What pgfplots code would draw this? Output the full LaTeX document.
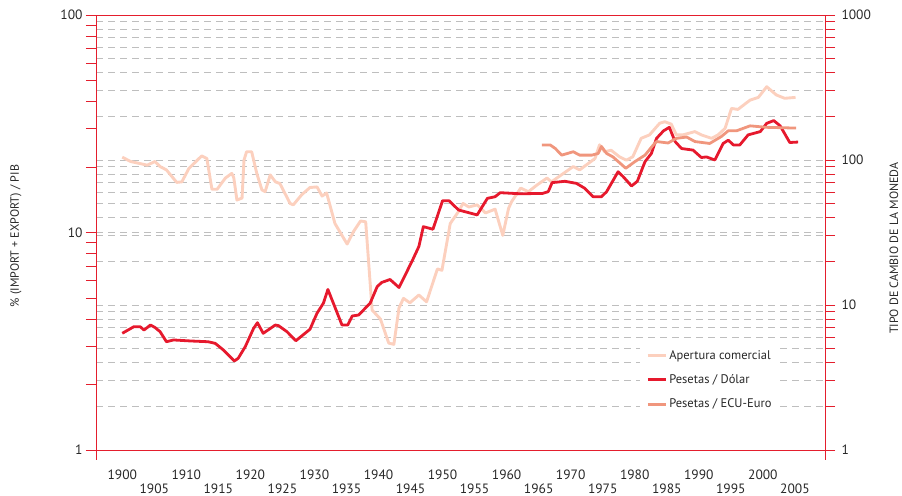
\documentclass[border=0pt]{standalone}
\usepackage{fontspec}
\setmainfont{PT Sans}
\usepackage{pgfplots}
\pgfplotsset{compat=1.18}
\definecolor{axred}{RGB}{228,30,45}
\definecolor{apcol}{RGB}{252,208,190}
\definecolor{dolcol}{RGB}{230,25,45}
\definecolor{ecucol}{RGB}{240,150,125}
\definecolor{gridgray}{RGB}{190,190,190}
\definecolor{txt}{RGB}{40,40,40}
\pgfplotsset{
  mybase/.style={
    scale only axis, width=729bp, height=435bp,
    xmin=1895.9, xmax=2009.7,
    tick align=outside,
    major tick length=10bp, minor tick length=10bp,
    tick style={axred, line width=0.8bp},
    axis line style={axred, line width=0.9bp},
    tick label style={font=\fontsize{13.5bp}{15bp}\selectfont, text=txt},
    label style={font=\fontsize{12bp}{14bp}\selectfont, text=txt},
  },
  /pgf/number format/1000 sep={},
  /pgf/number format/assume math mode=true,
}
\begin{document}
\begin{tikzpicture}
\path[use as bounding box] (-96bp,-46bp) rectangle (806bp,450bp);
% grid + corner crosses
\begin{axis}[mybase, ymode=log, ymin=1, ymax=1000,
  axis line style={draw=none},
  ytick={1,10,100,1000}, yticklabels={}, ytick style={draw=none},
  ymajorgrids, yminorgrids,
  grid style={gridgray, dash pattern=on 7bp off 5bp, line width=0.9bp},
  xtick={1895.9,2009.7}, xticklabels={}, xtick pos=left,
  xtick style={axred, line width=0.8bp},
  tick align=center,
  major tick length=20bp,
]
\addplot[draw=none] coordinates {(1900,10)};
\end{axis}
% left axis
\begin{axis}[mybase, ymode=log, ymin=1, ymax=100,
  log ticks with fixed point,
  ytick={1,10,100}, ytick pos=left,
  ymajorgrids, grid style={gridgray, dash pattern=on 7bp off 5bp, line width=0.9bp},
  xtick={1900,1910,...,2000}, xtick style={draw=none}, xtick pos=left,
  extra x ticks={1905,1915,...,2005},
  extra x tick style={xticklabel style={yshift=-14bp}},
  xticklabel style={yshift=-6bp},
  ylabel={\% (IMPORT + EXPORT) / PIB},
  ylabel style={at={(rel axis cs:-0.1097,0.492)}, anchor=center},
]
\addplot[apcol, line width=2.9bp, line join=round] coordinates {
(1900,22.2) (1901.3,21.2) (1903.9,20.4) (1905.1,21.2) (1905.9,20.1) (1906.9,19.4)
(1908.5,17.0) (1909.3,17.1) (1910.4,19.7) (1912.4,22.5) (1913.2,21.9) (1914,15.8)
(1914.8,15.8) (1916.1,17.8) (1917.1,18.7) (1917.4,17.9) (1917.9,14.1) (1918.7,14.4)
(1919,21.5) (1919.4,23.5) (1920.2,23.5) (1921,18.7) (1921.8,15.7) (1922.3,15.4)
(1923.1,18.4) (1923.9,17.1) (1924.6,16.8) (1926.2,13.6) (1926.7,13.4) (1928,14.9)
(1929.3,16.1) (1930.4,16.2) (1931.2,14.7) (1931.9,15.2) (1933.2,11.0) (1935.1,8.85)
(1936.1,10.1) (1937.2,11.3) (1938,11.2) (1939,4.4) (1940.3,4.0) (1941.6,3.1)
(1942.4,3.06) (1943.2,4.5) (1943.9,4.98) (1944.9,4.75) (1946.3,5.16) (1947.5,4.8)
(1949.2,6.8) (1949.9,6.7) (1951.2,11.0) (1952.5,12.5) (1953.2,13.6) (1954.1,13.1)
(1955.4,13.4) (1956.7,12.3) (1958.2,12.8) (1959.4,9.7) (1960.3,12.9) (1960.8,13.9)
(1962.2,16.0) (1963.4,15.4) (1964.7,16.5) (1966.3,17.8) (1967,17.1) (1970.4,20.1)
(1971.4,19.4) (1973.8,21.9) (1974.5,25.3) (1975.3,23.5) (1976.3,23.9) (1977.6,22.3)
(1978.7,21.5) (1979.7,22.3) (1981,27.1) (1982.3,28.1) (1983.9,31.8) (1984.7,32.3)
(1985.7,31.5) (1986.5,28.1) (1987.5,28.1) (1989.4,29.1) (1990.4,28.1) (1992,27.1)
(1993,28.1) (1994.1,30.1) (1995.1,37.2) (1996.1,36.8) (1998,40.6) (1999.3,41.8)
(2000.6,46.8) (2002.1,42.9) (2003.4,41.4) (2005.1,41.8)
};
\end{axis}
% right axis
\begin{axis}[mybase, ymode=log, ymin=1, ymax=1000,
  log ticks with fixed point,
  axis y line*=right, axis x line=none,
  ytick={1,10,100,1000},
  yticklabel style={xshift=3bp},
  ylabel={TIPO DE CAMBIO DE LA MONEDA},
  ylabel style={at={(rel axis cs:1.0947,0.464)}, anchor=center},
  legend style={at={(rel axis cs:0.7465,0.246)}, anchor=north west, draw=none,
    fill=white, font=\fontsize{12.5bp}{14bp}\selectfont, text=txt,
    row sep=10bp, inner xsep=6bp, inner ysep=5bp},
  legend cell align=left,
  legend image code/.code={\draw[#1] (0bp,0bp) -- (18bp,0bp);},
]
\addlegendimage{apcol, line width=2.9bp}
\addlegendentry{Apertura comercial}
\addplot[dolcol, line width=2.8bp, line join=round] coordinates {
(1900,6.38) (1901.8,7.08) (1902.8,7.08) (1903.4,6.72) (1904.4,7.28) (1905.1,7.0)
(1905.9,6.55) (1906.9,5.58) (1908,5.74) (1910.6,5.65) (1913.4,5.58) (1914.5,5.44)
(1915.8,4.89) (1917.5,4.11) (1918.1,4.29) (1919.2,5.16) (1920.5,6.9) (1921.1,7.55)
(1922,6.38) (1923.9,7.28) (1924.4,7.2) (1925.7,6.55) (1927.1,5.67) (1929.3,6.8)
(1930.4,8.77) (1931.4,10.3) (1932.1,12.8) (1934.3,7.28) (1935.2,7.28) (1935.9,8.4)
(1936.9,8.53) (1938.7,10.3) (1939.8,13.4) (1940.5,14.3) (1941.8,15.0) (1943.2,13.2)
(1945.2,19.9) (1946.3,25.3) (1947,34.7) (1948.5,33.3) (1950,52.4) (1951,52.4)
(1952.5,45.2) (1955.4,41.8) (1957,54.4) (1958.2,55.8) (1959,59.5) (1962.1,58.5)
(1965.6,58.8) (1966.5,60.5) (1967.1,69.8) (1969.1,71.3) (1970.9,69.0) (1972.2,63.8)
(1973.5,55.8) (1974.8,55.8) (1975.6,60.4) (1977.4,83.0) (1978.2,76.7) (1979.5,66.2)
(1980.4,71.3) (1981.6,97.3) (1982.6,111) (1983.4,141) (1984.5,159) (1985.4,168)
(1986.3,134) (1987.3,120) (1989.1,117) (1990.4,104) (1991.2,105) (1992.5,100)
(1993.8,130) (1994.6,137) (1995.4,127) (1996.4,127) (1997.7,149) (1999.6,157)
(2000.6,179) (2001.7,187) (2002.7,172) (2004.2,132) (2005.5,133)
};
\addlegendentry{Pesetas / Dólar}
\addplot[ecucol, line width=2.8bp, line join=round] coordinates {
(1965.5,127) (1966.8,127) (1967.6,120) (1968.6,108) (1970.4,114) (1971.4,108)
(1973.3,108) (1974.3,111) (1974.8,124) (1975.6,111) (1976.6,105) (1978.6,87.7)
(1980,97.3) (1981.6,108) (1982.9,127) (1983.4,134) (1985.2,131) (1986.5,141)
(1988.1,144) (1989.4,134) (1991.7,130) (1993.5,145) (1994.6,159) (1995.9,159)
(1998,172) (2000.6,168) (2005.2,166)
};
\addlegendentry{Pesetas / ECU-Euro}
\end{axis}
\end{tikzpicture}
\end{document}
